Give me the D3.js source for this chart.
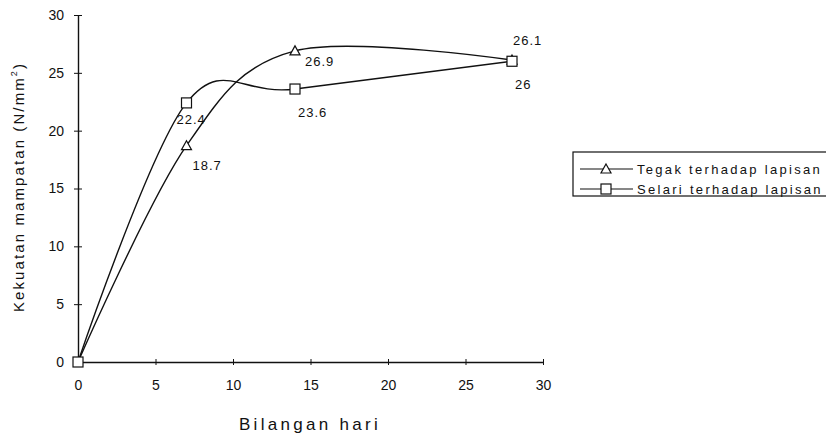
<!DOCTYPE html>
<html>
<head>
<meta charset="utf-8">
<script src="https://cdn.jsdelivr.net/npm/d3@7"></script>
<style>
  body { margin: 0; background: #fff; }
  text { font-family: "Liberation Sans", Arial, sans-serif; fill: #111; }
</style>
</head>
<body>
<svg id="chart" width="826" height="441"></svg>
<script>
// chart data
let days = [0, 7, 14, 28]
let tegak = [0, 18.7, 26.9, 26.1]
let selari = [0, 22.4, 23.6, 26]
let tegakLabels = ["", "18.7", "26.9", "26.1"]
let selariLabels = ["", "22.4", "23.6", "26"]
let xTicks = [0, 5, 10, 15, 20, 25, 30]
let yTicks = [0, 5, 10, 15, 20, 25, 30]
let seriesNames = ["Tegak terhadap lapisan", "Selari terhadap lapisan"]

let svg = d3.select('#chart')

let x = d3.scaleLinear().domain([0, 30]).range([78, 543])
let y = d3.scaleLinear().domain([0, 30]).range([362, 15])

// axes
let xAxis = svg.append("g").attr("transform", "translate(0," + y(0) + ")")
  .call(d3.axisBottom(x).tickValues(xTicks).tickSize(4).tickSizeOuter(0))
xAxis.select(".domain").attr("stroke", "#111").attr("stroke-width", 1.4)
xAxis.selectAll(".tick line").attr("y1", -3).attr("y2", 3).attr("stroke", "#111")
xAxis.selectAll(".tick text").attr("y", 18).attr("font-size", 14)

let yAxis = svg.append("g").attr("transform", "translate(" + x(0) + ",0)")
  .call(d3.axisLeft(y).tickValues(yTicks).tickSize(4).tickSizeOuter(0))
yAxis.select(".domain").attr("stroke", "#111").attr("stroke-width", 1.4)
yAxis.selectAll(".tick line").attr("x1", -4).attr("x2", 4).attr("stroke", "#111")
yAxis.selectAll(".tick text").attr("x", -14).attr("font-size", 14)

// titles
svg.append("text").attr("x", 310).attr("y", 430).attr("text-anchor", "middle")
  .attr("font-size", 17).attr("letter-spacing", 3.3).text("Bilangan hari")
let yt = svg.append("text").attr("transform", "translate(24,187) rotate(-90)")
  .attr("text-anchor", "middle").attr("font-size", 15).attr("letter-spacing", 2.1)
yt.append("tspan").text("Kekuatan mampatan (N/mm")
yt.append("tspan").attr("font-size", 9).attr("dy", -7).text("2")
yt.append("tspan").attr("dy", 7).text(")")

let line = d3.line()
  .x((d, i) => x(days[i]))
  .y(d => y(d))
  .curve(d3.curveCardinal.tension(0))

function triangle(g, cx, cy) {
  g.append("path")
    .attr("d", "M" + cx + "," + (cy - 5) + "L" + (cx + 5) + "," + (cy + 4) + "L" + (cx - 5) + "," + (cy + 4) + "Z")
    .attr("fill", "#fff").attr("stroke", "#111").attr("stroke-width", 1.2)
}
function square(g, cx, cy) {
  g.append("rect").attr("x", cx - 5).attr("y", cy - 5).attr("width", 10).attr("height", 10)
    .attr("fill", "#fff").attr("stroke", "#111").attr("stroke-width", 1.2)
}

svg.append("path").datum(tegak).attr("d", line)
  .attr("fill", "none").attr("stroke", "#111").attr("stroke-width", 1.4)
svg.append("path").datum(selari).attr("d", line)
  .attr("fill", "none").attr("stroke", "#111").attr("stroke-width", 1.4)

let marks = svg.append("g")
tegak.forEach((v, i) => { if (i > 0) triangle(marks, x(days[i]), y(v)) })
selari.forEach((v, i) => square(marks, x(days[i]), y(v)))

// value labels
let tegakOff = [[0, 0], [6, 24], [10, 15], [1, -15]]
let selariOff = [[0, 0], [-10, 21], [3, 28], [3, 28]]
tegakLabels.forEach((t, i) => {
  svg.append("text").attr("x", x(days[i]) + tegakOff[i][0]).attr("y", y(tegak[i]) + tegakOff[i][1])
    .attr("font-size", 13).attr("letter-spacing", 1).text(t)
})
selariLabels.forEach((t, i) => {
  svg.append("text").attr("x", x(days[i]) + selariOff[i][0]).attr("y", y(selari[i]) + selariOff[i][1])
    .attr("font-size", 13).attr("letter-spacing", 1).text(t)
})

// legend
let lg = svg.append("g")
lg.append("rect").attr("x", 573).attr("y", 152).attr("width", 260).attr("height", 44)
  .attr("fill", "#fff").attr("stroke", "#111").attr("stroke-width", 1.2)
seriesNames.forEach((name, i) => {
  let ly = 169 + i * 20
  lg.append("line").attr("x1", 580).attr("x2", 633).attr("y1", ly).attr("y2", ly)
    .attr("stroke", "#111").attr("stroke-width", 1.2)
  if (i == 0) triangle(lg, 606, ly)
  else square(lg, 606, ly)
  lg.append("text").attr("x", 637).attr("y", ly + 5).attr("font-size", 13)
    .attr("letter-spacing", 2.3).text(name)
})
</script>
</body>
</html>
